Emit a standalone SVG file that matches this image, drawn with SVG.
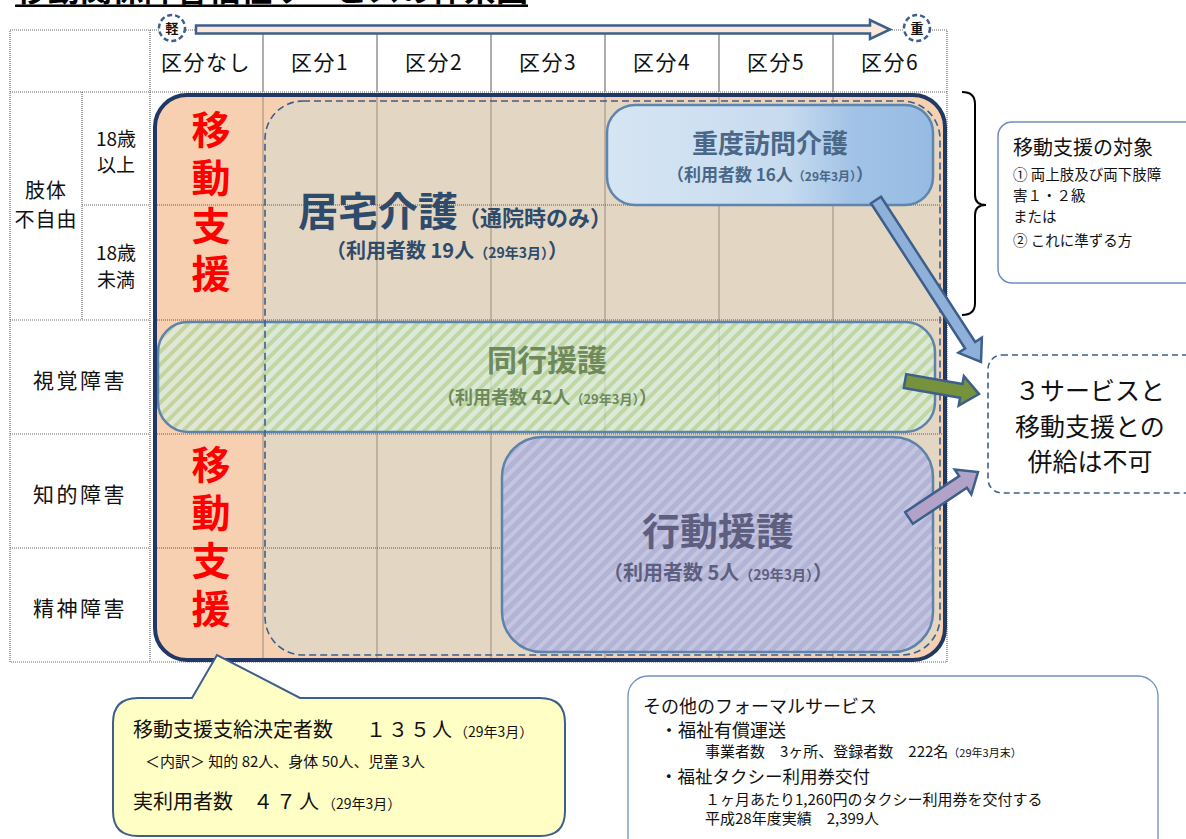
<svg xmlns="http://www.w3.org/2000/svg" width="1186" height="839" viewBox="0 0 1186 839">
<style>
.t{font-family:"Noto Sans CJK JP","Noto Sans",sans-serif;fill:#111}
.b{font-family:"Noto Sans CJK JP","Noto Sans",sans-serif;font-weight:bold}
.tl{stroke:#6b6b6b;stroke-width:1.2;stroke-dasharray:1 1;fill:none}
.gv{stroke:#9a8c78;stroke-width:1;fill:none}
.gh{stroke:#6b5a48;stroke-width:1.2;stroke-dasharray:1 1;fill:none}
.red{font-family:"Noto Sans CJK JP",sans-serif;font-weight:bold;fill:#ff0000;font-size:39px;writing-mode:vertical-rl;letter-spacing:9px}
.hd{font-size:21px;text-anchor:middle;letter-spacing:1.5px}
.lb{font-size:21px;text-anchor:middle;letter-spacing:2.5px}
.arr{stroke:#3c5f8c;stroke-width:2.5;stroke-linejoin:miter}
</style>
<defs>
<pattern id="hatchG" width="9" height="9" patternUnits="userSpaceOnUse" patternTransform="rotate(45)">
<rect width="9" height="9" fill="#d8f0e2"/>
<rect width="4" height="9" fill="#b2d696"/>
</pattern>
<pattern id="hatchP" width="9" height="9" patternUnits="userSpaceOnUse" patternTransform="rotate(45)">
<rect width="9" height="9" fill="#b3b4d5"/>
<rect width="4" height="9" fill="#c4c5e1"/>
</pattern>
<linearGradient id="gBlue" x1="0" y1="0" x2="1" y2="0">
<stop offset="0" stop-color="#d6e5f3"/>
<stop offset="0.55" stop-color="#c7dbef"/>
<stop offset="0.75" stop-color="#a2c3e6"/>
<stop offset="1" stop-color="#96bbe3"/>
</linearGradient>
</defs>

<!-- title (cut off at top) -->
<g id="title">
<text class="b" x="16" y="1" font-size="32" fill="#000">移動関係障害福祉サービスの体系図</text>
<rect x="15" y="4.5" width="513" height="2.5" fill="#000"/>
</g>

<!-- table -->
<g id="table">
<rect x="10" y="30" width="937" height="632" fill="#fff" class="tl"/>
<line class="tl" x1="150" y1="30" x2="150" y2="662"/>
<line class="tl" x1="82" y1="92" x2="82" y2="320"/>
<line class="tl" x1="10" y1="92" x2="947" y2="92"/>
<line class="tl" x1="82" y1="205" x2="150" y2="205"/>
<line class="tl" x1="10" y1="320" x2="150" y2="320"/>
<line class="tl" x1="10" y1="434" x2="150" y2="434"/>
<line class="tl" x1="10" y1="548" x2="150" y2="548"/>
<g stroke="#777" stroke-width="1.2">
<line x1="263" y1="30" x2="263" y2="92"/>
<line x1="377" y1="30" x2="377" y2="92"/>
<line x1="491" y1="30" x2="491" y2="92"/>
<line x1="605" y1="30" x2="605" y2="92"/>
<line x1="719" y1="30" x2="719" y2="92"/>
<line x1="833" y1="30" x2="833" y2="92"/>
</g>
<text class="t hd" x="206" y="70">区分なし</text>
<text class="t hd" x="320" y="70">区分1</text>
<text class="t hd" x="434" y="70">区分2</text>
<text class="t hd" x="548" y="70">区分3</text>
<text class="t hd" x="662" y="70">区分4</text>
<text class="t hd" x="776" y="70">区分5</text>
<text class="t hd" x="890" y="70">区分6</text>
<text class="t" x="46" y="198" font-size="20" text-anchor="middle" letter-spacing="1">肢体</text>
<text class="t" x="46" y="227" font-size="20" text-anchor="middle" letter-spacing="1">不自由</text>
<text class="t" x="116" y="146" font-size="19" text-anchor="middle">18歳</text>
<text class="t" x="116" y="172" font-size="19" text-anchor="middle">以上</text>
<text class="t" x="116" y="260" font-size="19" text-anchor="middle">18歳</text>
<text class="t" x="116" y="287" font-size="19" text-anchor="middle">未満</text>
<text class="t lb" x="80" y="388">視覚障害</text>
<text class="t lb" x="80" y="502">知的障害</text>
<text class="t lb" x="80" y="616">精神障害</text>
</g>

<!-- scale arrow -->
<g id="scale">
<polygon class="arr" points="196,25.5 870,25.5 870,20 890,29.5 870,39 870,33.5 196,33.5" fill="#fde9d9" stroke-width="2.5"/>
<circle cx="172" cy="28" r="13" fill="#fff" stroke="#3c5f8c" stroke-width="2.5" stroke-dasharray="5 3"/>
<text class="b" x="172" y="33" font-size="13" text-anchor="middle" fill="#111">軽</text>
<circle cx="917" cy="28" r="13" fill="#fff" stroke="#3c5f8c" stroke-width="2.5" stroke-dasharray="5 3"/>
<text class="b" x="917" y="33" font-size="13" text-anchor="middle" fill="#111">重</text>
</g>

<!-- 移動支援 area -->
<g id="idou-shien">
<rect x="155" y="95" width="790" height="565" rx="32" fill="#f7d0b2"/>
</g>
<g id="kyotaku">
<rect x="265" y="101" width="675" height="554" rx="38" fill="#e3d6c3"/>
</g>
<g id="grid">
<line class="gv" x1="263" y1="97" x2="263" y2="658"/>
<line class="gv" x1="377" y1="97" x2="377" y2="658"/>
<line class="gv" x1="491" y1="97" x2="491" y2="658"/>
<line class="gv" x1="605" y1="97" x2="605" y2="658"/>
<line class="gv" x1="719" y1="97" x2="719" y2="658"/>
<line class="gv" x1="833" y1="97" x2="833" y2="658"/>
<line class="gh" x1="157" y1="205" x2="943" y2="205"/>
<line class="gh" x1="157" y1="320" x2="943" y2="320"/>
<line class="gh" x1="157" y1="434" x2="943" y2="434"/>
<line class="gh" x1="157" y1="548" x2="943" y2="548"/>
</g>
<g id="idou-text">
<text class="red" x="211" y="110">移動支援</text>
<text class="red" x="211" y="445">移動支援</text>
</g>
<g id="kyotaku-text">
<text class="b" x="298" y="226" font-size="40" fill="#2f4b6c">居宅介護<tspan font-size="22">（通院時のみ）</tspan></text>
<text class="b" x="447" y="258" font-size="20" text-anchor="middle" fill="#2f4b6c">（利用者数 19人<tspan font-size="14">（29年3月）</tspan>）</text>
</g>

<!-- 重度訪問介護 -->
<g id="juudo">
<rect x="607" y="105" width="326" height="100" rx="28" fill="url(#gBlue)" stroke="#5f85ad" stroke-width="2.5"/>
<text class="b" x="770" y="153" font-size="26" text-anchor="middle" fill="#4a6787">重度訪問介護</text>
<text class="b" x="770" y="181" font-size="17" text-anchor="middle" fill="#4a6787">（利用者数 16人<tspan font-size="12">（29年3月）</tspan>）</text>
</g>

<!-- 同行援護 -->
<g id="doukou">
<rect x="158" y="322" width="777" height="110" rx="30" fill="url(#hatchG)" opacity="0.72"/>
<rect x="158" y="322" width="777" height="110" rx="30" fill="none" stroke="#5e83ab" stroke-width="2.5"/>
<text class="b" x="547" y="371" font-size="30" text-anchor="middle" fill="#6e8a5b">同行援護</text>
<text class="b" x="547" y="404" font-size="18" text-anchor="middle" fill="#6e8a5b">（利用者数 42人<tspan font-size="13">（29年3月）</tspan>）</text>
</g>

<!-- 行動援護 -->
<g id="koudou">
<rect x="502" y="437" width="431" height="215" rx="40" fill="url(#hatchP)" stroke="#5e83ab" stroke-width="2.5"/>
<text class="b" x="718" y="545" font-size="38" text-anchor="middle" fill="#5e5f80">行動援護</text>
<text class="b" x="718" y="580" font-size="20" text-anchor="middle" fill="#5e5f80">（利用者数 5人<tspan font-size="14">（29年3月）</tspan>）</text>
</g>

<!-- borders on top -->
<g id="borders">
<rect x="265" y="101" width="675" height="554" rx="38" fill="none" stroke="#3c5f8c" stroke-width="1.6" stroke-dasharray="7 4"/>
<rect x="155" y="95" width="790" height="565" rx="32" fill="none" stroke="#1f3864" stroke-width="4"/>
</g>

<!-- brace -->
<g id="brace">
<path d="M962,92 Q975,92 975,104 L975,195 Q975,205 986,205 Q975,205 975,215 L975,303 Q975,315 962,315" fill="none" stroke="#000" stroke-width="2"/>
</g>

<!-- right notes -->
<g id="taishou">
<rect x="998" y="122" width="210" height="161" rx="14" fill="#fff" stroke="#6d8ebf" stroke-width="1.5"/>
<text class="t" x="1013" y="155" font-size="20">移動支援の対象</text>
<text class="t" x="1013" y="180" font-size="14.5">① 両上肢及び両下肢障</text>
<text class="t" x="1013" y="201" font-size="14.5">害１・２級</text>
<text class="t" x="1013" y="222" font-size="14.5">または</text>
<text class="t" x="1013" y="246" font-size="14.5">② これに準ずる方</text>
</g>
<g id="heikyuu">
<rect x="988" y="355" width="220" height="138" rx="14" fill="#fff" stroke="#3c5f8c" stroke-width="1.6" stroke-dasharray="6 4"/>
<text class="t" x="1090" y="400" font-size="25" text-anchor="middle">３サービスと</text>
<text class="t" x="1090" y="436" font-size="25" text-anchor="middle">移動支援との</text>
<text class="t" x="1090" y="471" font-size="25" text-anchor="middle">併給は不可</text>
</g>

<!-- connectors -->
<g id="connectors">
<polygon class="arr" fill="#8fb1d9" points="870.97,203.26 965.09,348.48 958.37,352.84 981,362 981.87,337.61 975.16,341.96 881.04,196.74"/>
<polygon class="arr" fill="#76923c" points="903.79,387.9 960.06,397.79 958.68,405.67 979,394 963.87,376.12 962.48,384 906.21,374.1"/>
<polygon class="arr" fill="#b3a2c7" points="912.88,523.82 966.9,487.8 971.34,494.46 978,472 954.7,469.5 959.14,476.16 905.12,512.18"/>
</g>

<!-- callout -->
<g id="callout">
<path d="M138,698 L192,698 L217,655 L300,698 L540,698 Q565,698 565,723 L565,811 Q565,836 540,836 L138,836 Q113,836 113,811 L113,723 Q113,698 138,698 Z" fill="#ffffc5" stroke="#3c5f8c" stroke-width="2"/>
<text class="t" x="133" y="737" font-size="20">移動支援支給決定者数<tspan x="366" letter-spacing="2">１３５人</tspan><tspan font-size="14" letter-spacing="0">（29年3月）</tspan></text>
<text class="t" x="145" y="767" font-size="15">＜内訳＞ 知的 82人、身体 50人、児童 3人</text>
<text class="t" x="133" y="809" font-size="20">実利用者数<tspan x="253" letter-spacing="3">４７人</tspan><tspan font-size="14" letter-spacing="0">（29年3月）</tspan></text>
</g>

<!-- other formal services -->
<g id="other">
<rect x="628" y="676" width="530" height="185" rx="20" fill="#fff" stroke="#6d8ebf" stroke-width="1.3"/>
<text class="t" x="643" y="713" font-size="18">その他のフォーマルサービス</text>
<text class="t" x="660" y="737" font-size="18">・福祉有償運送</text>
<text class="t" x="705" y="757" font-size="15">事業者数　3ヶ所、登録者数　222名<tspan font-size="11">（29年3月末）</tspan></text>
<text class="t" x="660" y="783" font-size="17.5">・福祉タクシー利用券交付</text>
<text class="t" x="705" y="805" font-size="15">１ヶ月あたり1,260円のタクシー利用券を交付する</text>
<text class="t" x="705" y="824" font-size="15">平成28年度実績　2,399人</text>
</g>
</svg>
